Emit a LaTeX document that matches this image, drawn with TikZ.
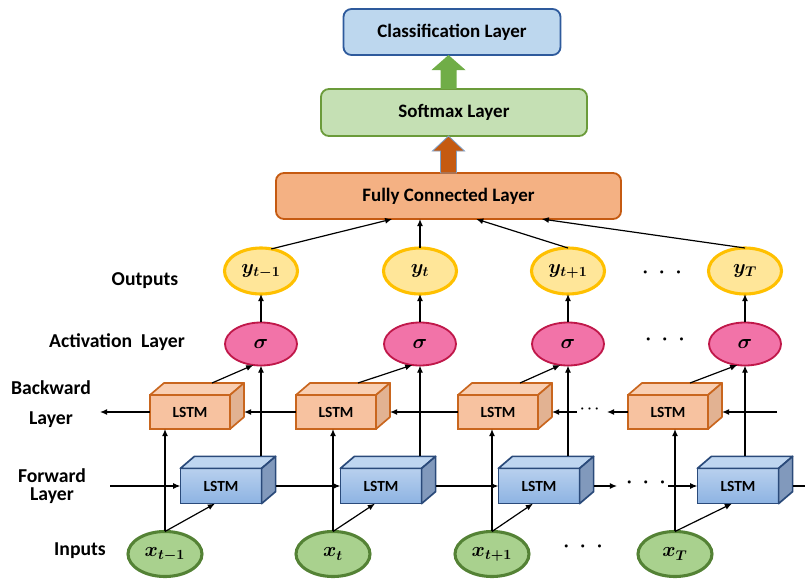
\documentclass[tikz,border=0pt]{standalone}
\usepackage{fontspec}
\setmainfont{Carlito}
\usepackage{amsmath}
\usepackage{bm}
\usetikzlibrary{shapes.geometric,arrows.meta,calc}
\definecolor{clsfill}{HTML}{BDD7EE}
\definecolor{clsline}{HTML}{2E5A9C}
\definecolor{smfill}{HTML}{C5E0B4}
\definecolor{smline}{HTML}{6B9B3A}
\definecolor{fcfill}{HTML}{F4B183}
\definecolor{fcline}{HTML}{C55A11}
\definecolor{arrgreen}{HTML}{70AD47}
\definecolor{arrorange}{HTML}{C55A11}
\definecolor{arredge}{HTML}{7F9FC4}
\definecolor{yfill}{HTML}{FFE699}
\definecolor{yline}{HTML}{FFC000}
\definecolor{sigfill}{HTML}{F273A8}
\definecolor{sigline}{HTML}{C0184A}
\definecolor{xfill}{HTML}{A9D18E}
\definecolor{xline}{HTML}{548235}
\definecolor{bwfront}{HTML}{F7C2A0}
\definecolor{bwtop}{HTML}{F9CFB3}
\definecolor{bwside}{HTML}{E2B292}
\definecolor{bwline}{HTML}{C9661E}
\definecolor{fwtop}{HTML}{B8D0EE}
\definecolor{fwbot}{HTML}{8DB3E2}
\definecolor{fwlid}{HTML}{BFD6F0}
\definecolor{fwside}{HTML}{8199BC}
\definecolor{fwline}{HTML}{2A4A7A}

\begin{document}
\begin{tikzpicture}[x=0.025cm, y=-0.025cm,
    conn/.style={-{Latex[length=1.8mm,width=1.5mm]}, line width=0.85pt},
    layerbox/.style={draw, rounded corners=2mm, line width=1.3pt, outer sep=0pt,
      font=\bfseries\fontsize{13.5}{15}\selectfont},
    lstmbw/.style={draw=bwline, fill=bwfront, line width=1.2pt, outer sep=0pt, inner sep=0pt,
      minimum width=2cm, minimum height=0.85cm, font=\bfseries\fontsize{11}{13}\selectfont},
    lstmfw/.style={draw=fwline, top color=fwtop, bottom color=fwbot, line width=1.2pt, outer sep=0pt,
      inner sep=0pt, minimum width=2.03cm, minimum height=0.88cm, font=\bfseries\fontsize{11}{13}\selectfont},
    unit/.style={ellipse, inner sep=0pt, outer sep=0pt, font=\fontsize{14}{16}\selectfont},
    outnode/.style={unit, draw=yline, fill=yfill, line width=2.2pt, minimum width=1.825cm, minimum height=1.15cm},
    actnode/.style={unit, draw=sigline, fill=sigfill, line width=1.3pt, minimum width=1.8cm, minimum height=1.075cm},
    innode/.style={unit, draw=xline, fill=xfill, line width=2.2pt, minimum width=1.85cm, minimum height=1.125cm},
    lbl/.style={font=\bfseries\fontsize{14}{16}\selectfont},
    dots/.style={font=\fontsize{14}{16}\selectfont}
  ]
  \useasboundingbox (0,0) rectangle (805,580);

  % top layers
  \node[layerbox, draw=clsline, fill=clsfill, minimum width=5.425cm, minimum height=1.15cm] (cls) at (452,32) {Classification Layer};
  \node[layerbox, draw=smline, fill=smfill, minimum width=6.65cm, minimum height=1.175cm] (sm) at (454,112.5) {Softmax Layer};
  \node[layerbox, draw=fcline, fill=fcfill, minimum width=8.625cm, minimum height=1.15cm] (fc) at (448.5,196) {Fully Connected Layer};

  % block arrows between the layers
  \coordinate (ga) at (fc.north |- sm.north);
  \coordinate (gb) at (fc.north |- cls.south);
  \fill[arrgreen] ($(ga)+(-8,0)$) -- ($(gb)+(-8,15)$) -- ($(gb)+(-17,15)$) -- (gb)
    -- ($(gb)+(17,15)$) -- ($(gb)+(8,15)$) -- ($(ga)+(8,0)$) -- cycle;
  \coordinate (oa) at (fc.north);
  \coordinate (ob) at (fc.north |- sm.south);
  \filldraw[fill=arrorange, draw=arredge, line width=0.6pt] ($(oa)+(-8,0)$) -- ($(ob)+(-8,15)$) -- ($(ob)+(-16,15)$) -- (ob)
    -- ($(ob)+(16,15)$) -- ($(ob)+(8,15)$) -- ($(oa)+(8,0)$) -- cycle;

  % row labels
  \node[lbl] (lout) at (145,281) {Outputs};
  \node[lbl] (lact) at (117,342) {Activation\ \ Layer};
  \node[lbl] (lbwa) at (51,388) {Backward};
  \node[lbl] (lbwb) at (51,420) {Layer};
  \node[lbl] (lfwa) at (52,476) {Forward};
  \node[lbl] (lfwb) at (52,496) {Layer};
  \node[lbl] (lin) at (80,551) {Inputs};

  % time steps
  \foreach \i/\xb/\xf/\xi/\xs/\sub in {1/190/221/165/261/t-1, 2/336/381/333/420/t, 3/498/539/492/568/t+1, 4/668/738/675/745/T}{
    \node[outnode] (y\i) at (\xs,271) {$\bm{y_{\sub}}$};
    \node[actnode] (s\i) at (\xs,344) {$\bm{\sigma}$};
    \node[lstmbw] (b\i) at (\xb,412) {LSTM};
    \node[lstmfw] (f\i) at (\xf,486) {LSTM};
    \node[innode] (x\i) at (\xi,554) {$\bm{x_{\sub}}$};
    % box depth
    \filldraw[draw=bwline, fill=bwtop, line width=1.2pt, line join=round] (b\i.north west) -- ++(14,-12)
      -- ($(b\i.north east)+(14,-12)$) -- (b\i.north east) -- cycle;
    \filldraw[draw=bwline, fill=bwside, line width=1.2pt, line join=round] (b\i.north east) -- ++(14,-12)
      -- ($(b\i.south east)+(14,-12)$) -- (b\i.south east) -- cycle;
    \filldraw[draw=fwline, fill=fwlid, line width=1.2pt, line join=round] (f\i.north west) -- ++(14,-12)
      -- ($(f\i.north east)+(14,-12)$) -- (f\i.north east) -- cycle;
    \filldraw[draw=fwline, fill=fwside, line width=1.2pt, line join=round] (f\i.north east) -- ++(14,-12)
      -- ($(f\i.south east)+(14,-12)$) -- (f\i.south east) -- cycle;
    % connections in one step
    \draw[conn] (x\i.north) -- (x\i.north |- b\i.south);
    \draw[conn] (x\i.north) -- ($(f\i.south)+(-6,0)$);
    \draw[conn] ($(s\i.south |- f\i.north)+(0,-12)$) -- (s\i.south);
    \draw[conn] ($(b\i.north)+(22,-12)$) -- (s\i.250);
    \draw[conn] (s\i.north) -- (y\i.south);
  }

  % outputs to fully connected layer
  \draw[conn] (y1.65) -- ($(fc.south west)!0.337!(fc.south east)$);
  \draw[conn] (y2.north) -- (y2.north |- fc.south);
  \draw[conn] (y3.north) -- ($(fc.south west)!0.58!(fc.south east)$);
  \draw[conn] (y4.north) -- ($(fc.south west)!0.77!(fc.south east)$);

  % forward chain
  \coordinate (fwin) at (110,486);
  \coordinate (fwa) at (617,486);
  \coordinate (fwb) at (668,486);
  \coordinate (fwout) at (805,486);
  \draw[conn] (fwin) -- (f1.west);
  \draw[conn] ($(f1.east)+(14,0)$) -- (f2.west);
  \draw[conn] ($(f2.east)+(14,0)$) -- (f3.west);
  \draw[conn] ($(f3.east)+(14,0)$) -- (fwa);
  \node[dots] (fwdots) at (646,483) {$\bm{\cdot\;\cdot\;\cdot}$};
  \draw[conn] (fwb) -- (f4.west);
  \draw[line width=0.85pt] ($(f4.east)+(14,0)$) -- (fwout);

  % backward chain
  \coordinate (bwin) at (777,412);
  \coordinate (bwa) at (607,412);
  \coordinate (bwb) at (577,412);
  \coordinate (bwout) at (100,412);
  \draw[conn] (bwin) -- ($(b4.east)+(14,0)$);
  \draw[conn] (b4.west) -- (bwa);
  \node[font=\fontsize{10}{10}\selectfont] (bwdots) at (591,409) {$\bm{\cdots}$};
  \draw[conn] (bwb) -- ($(b3.east)+(14,0)$);
  \draw[conn] (b3.west) -- ($(b2.east)+(14,0)$);
  \draw[conn] (b2.west) -- ($(b1.east)+(14,0)$);
  \draw[conn] (b1.west) -- (bwout);

  % gaps in the rows
  \node[dots] (ydots) at (662,273) {$\bm{\cdot\;\cdot\;\cdot}$};
  \node[dots] (sdots) at (665,340) {$\bm{\cdot\;\cdot\;\cdot}$};
  \node[dots] (xdots) at (583,547) {$\bm{\cdot\;\cdot\;\cdot}$};
\end{tikzpicture}
\end{document}
